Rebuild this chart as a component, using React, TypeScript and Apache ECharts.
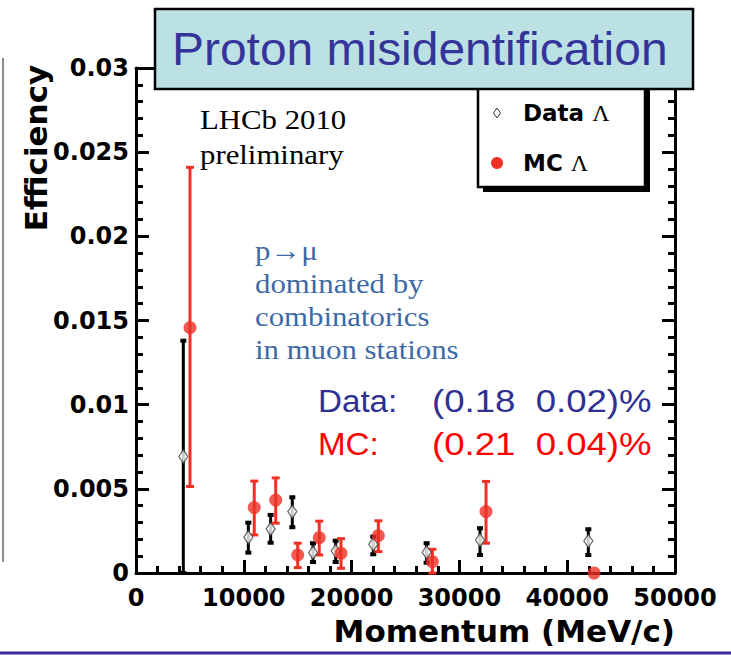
import React, { useEffect, useRef } from 'react';
import * as echarts from 'echarts';

// Data Λ (black open diamonds)
const dataX = [4390, 10420, 12490, 14500, 16420, 18520, 22010, 26960, 31910, 41960];
const dataY = [0.00692, 0.00212, 0.00262, 0.00365, 0.00121, 0.00131, 0.00171, 0.00123, 0.00196, 0.0019];
const dataLo = [0, 0.00121, 0.0018, 0.00272, 0.00065, 0.00065, 0.00111, 0.00061, 0.00107, 0.00107];
const dataHi = [0.0138, 0.00299, 0.00345, 0.0045, 0.00177, 0.00192, 0.00216, 0.00177, 0.00266, 0.0026];

// MC Λ (red dots)
const mcX = [5010, 10970, 12960, 15000, 17000, 19020, 22480, 27490, 32470, 42490];
const mcY = [0.01457, 0.00389, 0.00433, 0.00107, 0.0021, 0.00117, 0.00222, 0.00067, 0.00365, 0];
const mcLo = [0.00514, 0.00226, 0.00296, 0.00032, 0.00107, 0.00028, 0.00127, 0, 0.00177, 0];
const mcHi = [0.0241, 0.00546, 0.00565, 0.00177, 0.00308, 0.00204, 0.0031, 0.00141, 0.00544, 0];

const seriesNames = ['Data Λ', 'MC Λ'];
const titleText = 'Proton misidentification';
const yTitle = 'Efficiency';
const xTitle = 'Momentum (MeV/c)';
const noteLHCb = 'LHCb 2010\npreliminary';
const noteBlue = 'p→μ\ndominated by\ncombinatorics\nin muon stations';
const dataLabel = 'Data:';
const dataValue = '(0.18  0.02)%';
const mcLabel = 'MC:';
const mcValue = '(0.21  0.04)%';

const BOLD = '"DejaVu Sans", sans-serif';
const RED = '#ee3124';

export default function App() {
  const ref = useRef<HTMLDivElement>(null);
  useEffect(() => {
    const chart = echarts.init(ref.current as HTMLDivElement, null, { renderer: 'svg' });

    const errRender = (color: string, capW: number, capLw: number) => (params: any, api: any) => {
      const x = api.value(0);
      const lo = api.value(2);
      const hi = api.value(3);
      if (!(hi > lo)) return null;
      const t = api.coord([x, hi]);
      const b = api.coord([x, lo]);
      return {
        type: 'group',
        children: [
          { type: 'line', shape: { x1: t[0], y1: t[1], x2: b[0], y2: b[1] }, style: { stroke: color, lineWidth: 3 } },
          { type: 'line', shape: { x1: t[0] - capW / 2, y1: t[1], x2: t[0] + capW / 2, y2: t[1] }, style: { stroke: color, lineWidth: capLw } },
          { type: 'line', shape: { x1: b[0] - capW / 2, y1: b[1], x2: b[0] + capW / 2, y2: b[1] }, style: { stroke: color, lineWidth: capLw } },
        ],
      };
    };

    const axisCommonX = {
      type: 'value',
      min: 0,
      max: 50000,
      interval: 10000,
      axisLine: { show: true, onZero: false, lineStyle: { color: '#000', width: 3 } },
      axisTick: { show: true, inside: true, length: 13, lineStyle: { color: '#000', width: 3 } },
      minorTick: { show: true, splitNumber: 5, length: 7, lineStyle: { color: '#000', width: 3 } },
      splitLine: { show: false },
      minorSplitLine: { show: false },
    };
    const axisCommonY = {
      type: 'value',
      min: 0,
      max: 0.03,
      interval: 0.005,
      axisLine: { show: true, onZero: false, lineStyle: { color: '#000', width: 3 } },
      axisTick: { show: true, inside: true, length: 13, lineStyle: { color: '#000', width: 3 } },
      minorTick: { show: true, splitNumber: 5, length: 7, lineStyle: { color: '#000', width: 3 } },
      splitLine: { show: false },
      minorSplitLine: { show: false },
    };

    const txt = (extra: any) => ({ textAlign: 'left', textVerticalAlign: 'middle', align: 'left', verticalAlign: 'middle', ...extra });

    chart.setOption({
      animation: false,
      backgroundColor: '#fff',
      grid: { left: 136, right: 56, top: 68, bottom: 83, containLabel: false },
      xAxis: [
        {
          ...axisCommonX,
          position: 'bottom',
          axisLabel: {
            show: true, fontFamily: BOLD, fontWeight: 'bold', fontSize: 24, color: '#000', margin: 13,
            formatter: (v: number) => String(v),
          },
          name: xTitle,
          nameLocation: 'end',
          nameGap: 0,
          nameTextStyle: {
            fontFamily: BOLD, fontWeight: 'bold', fontSize: 31, color: '#000',
            align: 'right', verticalAlign: 'top', padding: [42, 0, 0, 0],
          },
        },
        { ...axisCommonX, position: 'top', axisLabel: { show: false } },
      ],
      yAxis: [
        {
          ...axisCommonY,
          position: 'left',
          axisLabel: { show: true, fontFamily: BOLD, fontWeight: 'bold', fontSize: 24, color: '#000', margin: 7 },
        },
        { ...axisCommonY, position: 'right', axisLabel: { show: false } },
      ],
      legend: {
        show: true,
        orient: 'vertical',
        left: 491,
        top: 101,
        padding: 0,
        itemGap: 26,
        itemWidth: 12,
        itemHeight: 12,
        z: 120,
        data: [
          { name: seriesNames[0], icon: 'diamond', itemStyle: { opacity: 0 } },
          { name: seriesNames[1], icon: 'circle', itemStyle: { opacity: 0 } },
        ],
        formatter: (n: string) => `{sp|}{b|${n.split(' ')[0]} }{g|Λ}`,
        textStyle: {
          rich: {
            sp: { width: 14 },
            b: { fontFamily: BOLD, fontWeight: 'bold', fontSize: 23, color: '#000', lineHeight: 24 },
            g: { fontFamily: '"Liberation Serif", serif', fontSize: 24, color: '#000', lineHeight: 24 },
          },
        },
      },
      series: [
        {
          type: 'custom',
          name: 'Data err',
          renderItem: errRender('#000', 6, 4),
          data: dataX.map((x, i) => [x, dataY[i], dataLo[i], dataHi[i]]),
          encode: { x: 0, y: 1 },
          z: 3,
        },
        {
          type: 'custom',
          name: 'MC err',
          renderItem: errRender(RED, 8, 3),
          data: mcX.map((x, i) => [x, mcY[i], mcLo[i], mcHi[i]]),
          encode: { x: 0, y: 1 },
          z: 4,
        },
        {
          type: 'scatter',
          name: seriesNames[0],
          data: dataX.map((x, i) => [x, dataY[i]]),
          symbol: 'diamond',
          symbolSize: [9, 13],
          itemStyle: { color: '#fff', borderColor: '#444', borderWidth: 1.3 },
          clip: false,
          z: 5,
        },
        {
          type: 'scatter',
          name: seriesNames[1],
          data: mcX.map((x, i) => [x, mcY[i]]),
          symbol: 'circle',
          symbolSize: 13,
          itemStyle: { color: RED },
          clip: false,
          z: 6,
        },
      ],
      graphic: [
        // legend box with shadow
        { type: 'rect', z: 90, shape: { x: 483, y: 90, width: 167, height: 102 }, style: { fill: '#000' } },
        { type: 'rect', z: 91, shape: { x: 478, y: 85, width: 167, height: 102 }, style: { fill: '#fff', stroke: '#000', lineWidth: 2.5 } },
        // legend markers
        { type: 'polygon', z: 121, shape: { points: [[497, 108], [500.5, 113], [497, 118], [493.5, 113]] }, style: { fill: '#fff', stroke: '#333', lineWidth: 1 } },
        { type: 'circle', z: 121, shape: { cx: 497, cy: 163, r: 6 }, style: { fill: RED } },
        // title box
        { type: 'rect', z: 100, shape: { x: 155, y: 9, width: 538, height: 80 }, style: { fill: '#bce1e5', stroke: '#000', lineWidth: 2.5 } },
        {
          type: 'text', z: 101, x: 172, y: 49, scaleX: 1.02,
          style: txt({ text: titleText, font: '47px "Liberation Sans", Arial, sans-serif', fill: '#35349a' }),
        },
        // y axis title
        {
          type: 'text', z: 50, x: 36, y: 148, rotation: Math.PI / 2,
          style: { text: yTitle, font: 'bold 31px "DejaVu Sans", sans-serif', fill: '#000', textAlign: 'center', textVerticalAlign: 'middle', align: 'center', verticalAlign: 'middle' },
        },
        // annotations
        {
          type: 'text', z: 50, x: 200, y: 137, scaleX: 1.1,
          style: txt({ text: noteLHCb, font: '28px "Liberation Serif", serif', lineHeight: 36, fill: '#000' }),
        },
        {
          type: 'text', z: 50, x: 255, y: 300, scaleX: 1.1,
          style: txt({ text: noteBlue, font: '28px "Liberation Serif", serif', lineHeight: 33, fill: '#3d6aa6' }),
        },
        {
          type: 'text', z: 50, x: 318, y: 401, scaleX: 1.07,
          style: txt({ text: dataLabel, font: '31px "Liberation Sans", Arial, sans-serif', fill: '#2e3192' }),
        },
        {
          type: 'text', z: 50, x: 432, y: 401, scaleX: 1.18,
          style: txt({ text: dataValue, font: '31px "Liberation Sans", Arial, sans-serif', fill: '#2e3192' }),
        },
        {
          type: 'text', z: 50, x: 318, y: 444, scaleX: 1.07,
          style: txt({ text: mcLabel, font: '31px "Liberation Sans", Arial, sans-serif', fill: '#ff0000' }),
        },
        {
          type: 'text', z: 50, x: 432, y: 444, scaleX: 1.18,
          style: txt({ text: mcValue, font: '31px "Liberation Sans", Arial, sans-serif', fill: '#ff0000' }),
        },
        // slide artifacts: left border line and bottom purple rule
        { type: 'line', z: 50, shape: { x1: 3, y1: 58, x2: 3, y2: 562 }, style: { stroke: '#666', lineWidth: 1.5 } },
        { type: 'line', z: 50, shape: { x1: 0, y1: 653, x2: 731, y2: 653 }, style: { stroke: '#3c2a9a', lineWidth: 3 } },
      ],
    });

    return () => chart.dispose();
  }, []);

  return <div ref={ref} style={{ position: 'absolute', left: 0, top: 0, width: 731, height: 656 }} />;
}
